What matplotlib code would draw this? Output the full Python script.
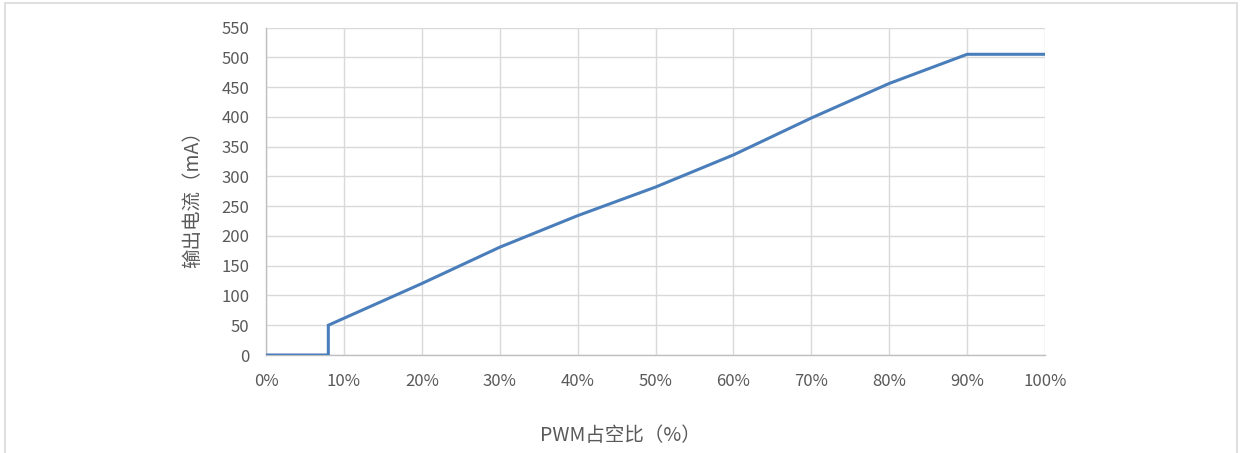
import matplotlib
matplotlib.use("Agg")
import matplotlib.pyplot as plt
from matplotlib.patches import Rectangle

plt.rcParams["font.family"] = ["Noto Sans CJK SC", "DejaVu Sans"]

# PWM duty (%) vs output current (mA), step at 8 %
duty = [0, 8, 8, 20, 30, 40, 50, 60, 70, 80, 90, 100]
current = [0, 0, 50, 120, 181, 234, 282, 336, 398, 456, 505, 505]
x_ticks = [0, 10, 20, 30, 40, 50, 60, 70, 80, 90, 100]
x_tick_labels = [f"{t}%" for t in x_ticks]
y_ticks = list(range(0, 551, 50))

TEXT = "#595959"
GRID = "#d9d9d9"
AXIS = "#bfbfbf"
LINE = "#4a7ebb"

W, H = 1243, 453
fig = plt.figure(figsize=(W / 100, H / 100), dpi=100)
fig.patches.append(Rectangle((5 / W, -0.05), (1237 - 5) / W, 1.05 - 3 / H,
                             transform=fig.transFigure, fill=False,
                             edgecolor=GRID, linewidth=1.2))

ax = fig.add_axes([266 / W, 1 - 355 / H, (1045 - 266) / W, (355 - 27.5) / H])
ax.plot(duty, current, color=LINE, linewidth=2.2, solid_joinstyle="miter", zorder=3)

ax.set_xlim(0, 100)
ax.set_ylim(0, 550)
ax.set_xticks(x_ticks)
ax.set_xticklabels(x_tick_labels)
ax.set_yticks(y_ticks)
ax.grid(True, color=GRID, linewidth=1.0)
ax.tick_params(length=0, labelsize=12, colors=TEXT)
ax.tick_params(axis="x", pad=13)
ax.tick_params(axis="y", pad=12)
for side in ("top", "right"):
    ax.spines[side].set_visible(False)
for side in ("left", "bottom"):
    ax.spines[side].set_color(AXIS)
    ax.spines[side].set_linewidth(1.0)

ax.set_xlabel("PWM占空比（%）", fontsize=14, color=TEXT)
ax.xaxis.set_label_coords(0.455, -0.215)
ax.set_ylabel("输出电流（mA）", fontsize=14, color=TEXT)
ax.yaxis.set_label_coords(-0.081, 0.49)

fig.savefig("out.png", dpi=100)
